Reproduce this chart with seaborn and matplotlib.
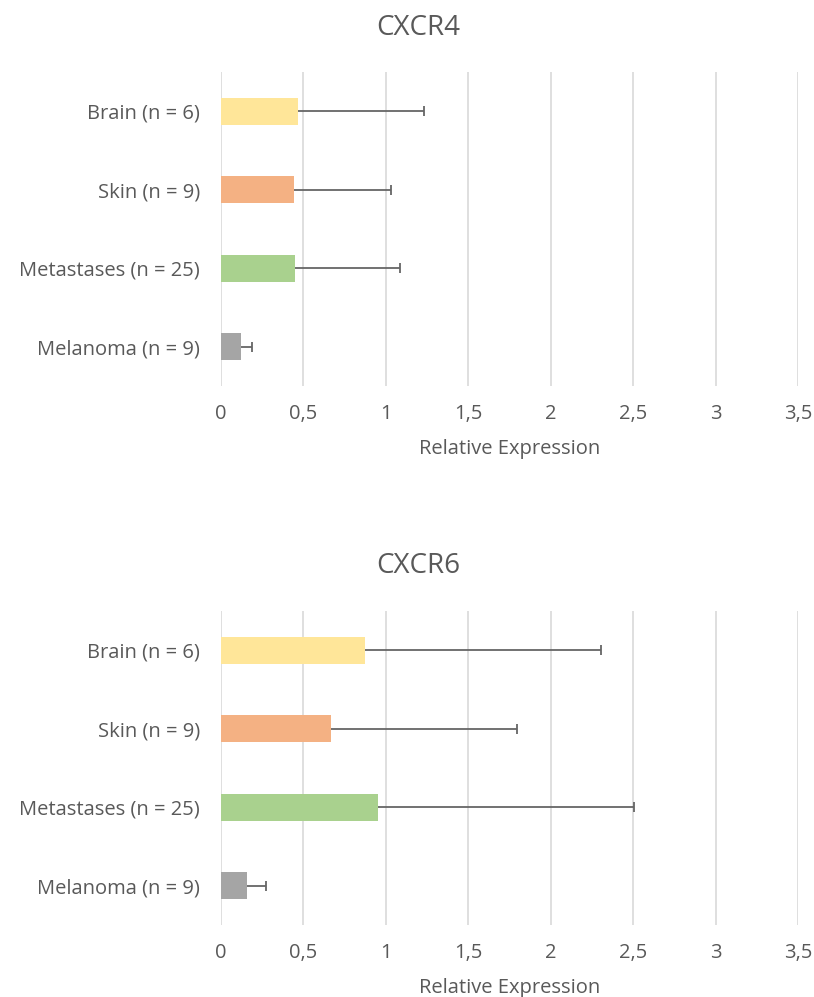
import matplotlib
matplotlib.use("Agg")
import matplotlib.pyplot as plt
import matplotlib.ticker as mticker
import numpy as np
import pandas as pd
import seaborn as sns

tissues = ["Brain (n = 6)", "Skin (n = 9)", "Metastases (n = 25)", "Melanoma (n = 9)"]
colors = ["#FFE699", "#F4B183", "#A9D18E", "#A5A5A5"]

cxcr4_mean = [0.47, 0.44, 0.45, 0.12]
cxcr4_upper = [1.23, 1.03, 1.085, 0.19]

cxcr6_mean = [0.875, 0.665, 0.95, 0.155]
cxcr6_upper = [2.305, 1.795, 2.505, 0.275]

xticks = [0, 0.5, 1, 1.5, 2, 2.5, 3, 3.5]

sns.set_theme(style="white")
plt.rcParams["font.family"] = ["Open Sans", "DejaVu Sans"]
text_color = "#595959"
err_color = "#666666"

fig = plt.figure(figsize=(8.14, 9.97), dpi=100)

W, H = 814, 997
def axes_rect(top_px, bottom_px, left_px=221, right_px=798):
    return [left_px / W, 1 - bottom_px / H, (right_px - left_px) / W, (bottom_px - top_px) / H]

panels = [
    ("CXCR4", cxcr4_mean, cxcr4_upper, axes_rect(72, 386), 28),
    ("CXCR6", cxcr6_mean, cxcr6_upper, axes_rect(611, 925), 566),
]

for title, means, uppers, rect, title_y in panels:
    ax = fig.add_axes(rect)
    df = pd.DataFrame({"tissue": tissues, "value": means})
    sns.barplot(data=df, x="value", y="tissue", hue="tissue", order=tissues,
                hue_order=tissues, palette=colors, saturation=1, legend=False,
                orient="h", width=0.35, errorbar=None, ax=ax, zorder=2, linewidth=0)
    # one-sided (upper) error bars: whisker from bar end, cap at the upper value only
    ypos = np.arange(len(tissues))
    ax.hlines(ypos, means, uppers, color=err_color, linewidth=1.3, zorder=3)
    ax.plot(uppers, ypos, linestyle="none", marker="|", markersize=7.5,
            markeredgewidth=1.3, color=err_color, zorder=3)
    ax.set_xlim(0, 3.5)
    ax.set_ylim(len(tissues) - 0.5, -0.5)
    ax.set_xticks(xticks)
    ax.xaxis.set_major_formatter(mticker.FuncFormatter(
        lambda v, p: (f"{v:g}").replace(".", ",")))
    ax.grid(axis="x", color="#d9d9d9", linewidth=1.2, zorder=0)
    ax.grid(axis="y", visible=False)
    for s in ax.spines.values():
        s.set_visible(False)
    ax.tick_params(axis="both", length=0, labelsize=14.5, colors=text_color)
    ax.tick_params(axis="y", pad=15)
    ax.tick_params(axis="x", pad=13)
    ax.set_ylabel("")
    ax.set_xlabel("Relative Expression", fontsize=14.5, color=text_color, labelpad=11)
    fig.text(418 / W, 1 - title_y / H, title, ha="center", va="center",
             fontsize=20, color=text_color)

fig.savefig("out.png", dpi=100)
